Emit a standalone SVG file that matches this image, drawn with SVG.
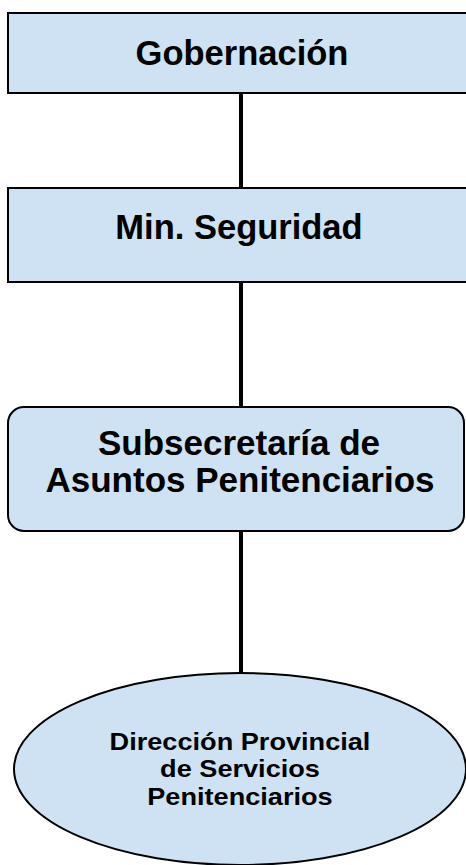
<svg xmlns="http://www.w3.org/2000/svg" width="466" height="865" viewBox="0 0 466 865">
<style>
.n{fill:#cfe2f3;stroke:#000;stroke-width:2}
.t{font-family:"Liberation Sans",Arial,sans-serif;font-weight:bold;fill:#000;text-anchor:middle}
.c{stroke:#000;stroke-width:4;fill:none}
</style>
<rect width="466" height="865" fill="#fff"/>
<g id="connectors">
<line class="c" x1="241" y1="93" x2="241" y2="188"/>
<line class="c" x1="241" y1="282" x2="241" y2="407"/>
<line class="c" x1="241" y1="531" x2="241" y2="673"/>
</g>
<g id="gobernacion">
<rect class="n" x="8" y="13" width="470" height="80"/>
<text class="t" x="242" y="65" font-size="34.5">Gobernación</text>
</g>
<g id="min-seguridad">
<rect class="n" x="8" y="188" width="470" height="94"/>
<text class="t" x="239" y="239" font-size="34.5">Min. Seguridad</text>
</g>
<g id="subsecretaria">
<rect class="n" x="8" y="407" width="456" height="124" rx="16"/>
<text class="t" x="239" y="455" font-size="35">Subsecretaría de</text>
<text class="t" x="240" y="492" font-size="35">Asuntos Penitenciarios</text>
</g>
<g id="direccion">
<ellipse class="n" cx="240" cy="769" rx="226" ry="96"/>
<g transform="translate(240,0) scale(1.18,1)">
<text class="t" x="0" y="750" font-size="23">Dirección Provincial</text>
<text class="t" x="0" y="777" font-size="23">de Servicios</text>
<text class="t" x="0" y="805" font-size="23">Penitenciarios</text>
</g>
</g>
</svg>
